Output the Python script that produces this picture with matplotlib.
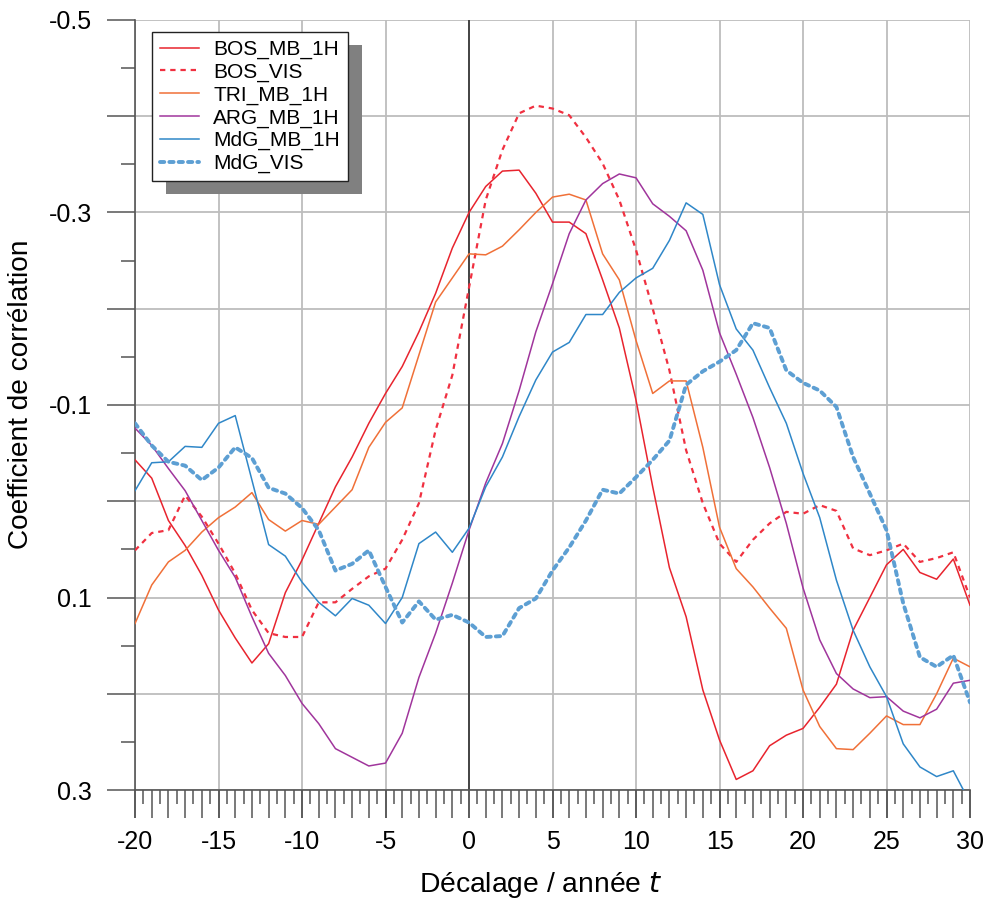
import numpy as np
import matplotlib
matplotlib.use('Agg')
import matplotlib.pyplot as plt
from matplotlib.patches import Rectangle
from matplotlib.ticker import MultipleLocator, FuncFormatter, NullLocator

plt.rcParams['font.family'] = ['Liberation Sans', 'DejaVu Sans']

# lag in years, one value per year
lags = np.arange(-20, 31)

bos_mb = [-0.043, -0.024, 0.020, 0.046, 0.077, 0.113, 0.142, 0.168, 0.148, 0.095,
          0.061, 0.023, -0.015, -0.046, -0.081, -0.112, -0.140, -0.176, -0.216, -0.263,
          -0.300, -0.327, -0.343, -0.344, -0.320, -0.290, -0.290, -0.278, -0.230, -0.180,
          -0.105, -0.015, 0.069, 0.120, 0.196, 0.248, 0.289, 0.280, 0.254, 0.243,
          0.236, 0.214, 0.190, 0.134, 0.100, 0.066, 0.050, 0.074, 0.081, 0.060,
          0.108]
bos_vis = [0.051, 0.033, 0.030, -0.006, 0.016, 0.044, 0.075, 0.113, 0.137, 0.141,
           0.141, 0.105, 0.105, 0.091, 0.078, 0.070, 0.040, 0.002, -0.074, -0.131,
           -0.222, -0.313, -0.365, -0.403, -0.411, -0.408, -0.401, -0.378, -0.351, -0.313,
           -0.261, -0.200, -0.136, -0.053, 0.002, 0.044, 0.063, 0.040, 0.023, 0.011,
           0.013, 0.004, 0.010, 0.049, 0.056, 0.051, 0.044, 0.063, 0.059, 0.053,
           0.100]
tri_mb = [0.127, 0.087, 0.063, 0.051, 0.032, 0.017, 0.006, -0.009, 0.019, 0.031,
          0.020, 0.024, 0.006, -0.012, -0.056, -0.082, -0.097, -0.152, -0.207, -0.232,
          -0.257, -0.256, -0.265, -0.282, -0.300, -0.316, -0.319, -0.313, -0.257, -0.230,
          -0.167, -0.112, -0.125, -0.125, -0.056, 0.027, 0.070, 0.089, 0.111, 0.132,
          0.196, 0.234, 0.257, 0.258, 0.241, 0.223, 0.232, 0.232, 0.200, 0.163,
          0.172]
arg_mb = [-0.076, -0.058, -0.034, -0.011, 0.020, 0.051, 0.079, 0.120, 0.158, 0.181,
          0.210, 0.231, 0.257, 0.266, 0.275, 0.272, 0.241, 0.183, 0.137, 0.085,
          0.030, -0.019, -0.060, -0.115, -0.176, -0.226, -0.278, -0.313, -0.330, -0.340,
          -0.336, -0.309, -0.296, -0.281, -0.240, -0.175, -0.132, -0.087, -0.035, 0.023,
          0.090, 0.144, 0.179, 0.195, 0.204, 0.203, 0.218, 0.225, 0.216, 0.189,
          0.186]
mdg_mb = [-0.011, -0.040, -0.041, -0.057, -0.056, -0.081, -0.089, -0.022, 0.045, 0.057,
          0.084, 0.105, 0.119, 0.101, 0.108, 0.127, 0.100, 0.044, 0.032, 0.053,
          0.028, -0.015, -0.046, -0.088, -0.126, -0.155, -0.165, -0.194, -0.194, -0.217,
          -0.232, -0.242, -0.271, -0.310, -0.298, -0.225, -0.179, -0.157, -0.118, -0.081,
          -0.029, 0.017, 0.082, 0.134, 0.172, 0.203, 0.252, 0.276, 0.286, 0.280,
          0.313]
mdg_vis = [-0.081, -0.058, -0.041, -0.037, -0.022, -0.035, -0.056, -0.045, -0.014, -0.008,
           0.007, 0.030, 0.072, 0.065, 0.051, 0.089, 0.126, 0.104, 0.123, 0.118,
           0.126, 0.141, 0.140, 0.111, 0.101, 0.072, 0.048, 0.020, -0.012, -0.008,
           -0.025, -0.043, -0.063, -0.121, -0.135, -0.145, -0.157, -0.185, -0.180, -0.136,
           -0.123, -0.115, -0.098, -0.046, -0.008, 0.030, 0.106, 0.162, 0.172, 0.160,
           0.209]

y_labels = ['-0.5', '-0.3', '-0.1', '0.1', '0.3']

fig = plt.figure(figsize=(9.87, 8.99), dpi=100)
ax = fig.add_axes([0.1368, 0.1212, 0.8460, 0.8566])

# series
ax.plot(lags, bos_mb, color='#e8242e', lw=1.1, label='BOS_MB_1H', zorder=3)
ax.plot(lags, bos_vis, color='#f03040', lw=1.6, ls=(0, (2.4, 2.2)), label='BOS_VIS', zorder=3)
ax.plot(lags, tri_mb, color='#f07038', lw=1.1, label='TRI_MB_1H', zorder=3)
ax.plot(lags, arg_mb, color='#a0359c', lw=1.1, label='ARG_MB_1H', zorder=3)
ax.plot(lags, mdg_mb, color='#2f87c8', lw=1.1, label='MdG_MB_1H', zorder=3)
ax.plot(lags, mdg_vis, color='#5d9fd3', lw=2.8, ls=(0, (1.1, 1.3)),
        dash_capstyle='round', label='MdG_VIS', zorder=3)

ax.axvline(0, color='#3a3a3a', lw=1.3, zorder=2)

ax.set_xlim(-20, 30)
ax.set_ylim(0.3, -0.5)

# ticks
ax.xaxis.set_major_locator(MultipleLocator(5))
ax.xaxis.set_minor_locator(NullLocator())
ax.yaxis.set_major_locator(MultipleLocator(0.1))
ax.yaxis.set_minor_locator(MultipleLocator(0.05))


def y_fmt(v, pos):
    s = '%.1f' % v
    if s == '-0.0':
        s = '0.0'
    return s if s in y_labels else ''


ax.yaxis.set_major_formatter(FuncFormatter(y_fmt))
ax.xaxis.set_major_formatter(FuncFormatter(lambda v, p: '%d' % v))

ax.tick_params(axis='both', which='major', direction='out', length=20, width=1.1,
               color='#555555', labelsize=18)
ax.tick_params(axis='x', which='major', pad=9)
ax.tick_params(axis='y', which='major', pad=11)
ax.tick_params(axis='both', which='minor', direction='out', length=10, width=1.1,
               color='#555555')

# yearly and half-year ticks on the lag axis
sec = ax.secondary_xaxis('bottom')
sec.xaxis.set_major_locator(MultipleLocator(1))
sec.xaxis.set_minor_locator(MultipleLocator(0.5))
sec.tick_params(axis='x', which='major', length=20, width=1.1, color='#555555',
                labelbottom=False)
sec.tick_params(axis='x', which='minor', length=10, width=1.1, color='#555555')
sec.spines['bottom'].set_visible(False)

ax.grid(True, which='major', color='#bdbdbd', lw=1.3, zorder=1)
ax.set_axisbelow(True)

for side in ['top', 'right']:
    ax.spines[side].set_visible(False)
for side in ['left', 'bottom']:
    ax.spines[side].set_color('#555555')
    ax.spines[side].set_linewidth(1.2)

ax.set_ylabel('Coefficient de corrélation', fontsize=20.2)
ax.yaxis.set_label_coords(-0.121, 0.514)
ax.set_xlabel('Décalage / année $\\mathit{t}$', fontsize=20.3)
ax.xaxis.set_label_coords(0.486, -0.104)

leg = ax.legend(loc='upper left', bbox_to_anchor=(0.0204, 0.9844), borderaxespad=0,
                fontsize=15, frameon=True, fancybox=False, framealpha=1,
                edgecolor='#222222', handlelength=1.85, handletextpad=0.7,
                labelspacing=0.17, borderpad=0.38)
leg.get_frame().set_linewidth(1.0)
leg.set_zorder(6)

# offset grey shadow behind the legend box
fig.canvas.draw()
bb = leg.get_window_extent().transformed(ax.transAxes.inverted())
dx = 14 / (ax.bbox.width)
dy = 13 / (ax.bbox.height)
ax.add_patch(Rectangle((bb.x0 + dx, bb.y0 - dy), bb.width, bb.height,
                       transform=ax.transAxes, facecolor='#808080', edgecolor='none',
                       zorder=5, clip_on=False))

fig.savefig('out.png', dpi=100)
